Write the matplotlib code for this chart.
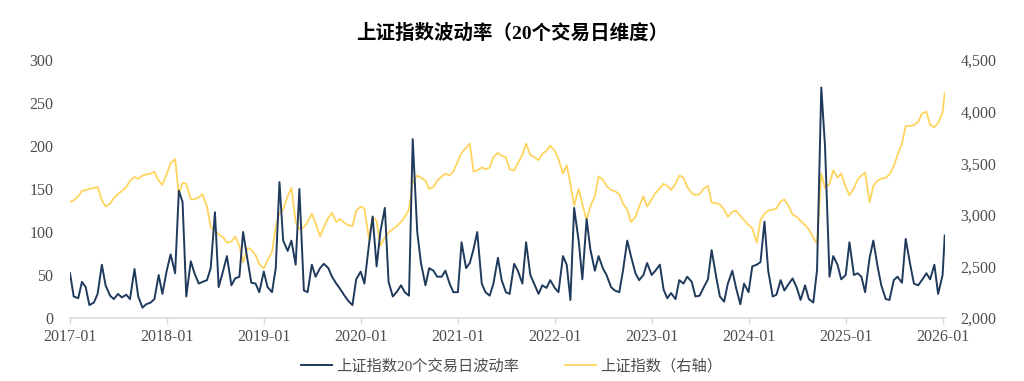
# 上证指数波动率（20个交易日维度）
import numpy as np
import pandas as pd
import matplotlib
matplotlib.use('Agg')
import matplotlib.pyplot as plt
import matplotlib.dates as mdates
from matplotlib.ticker import FuncFormatter

plt.rcParams['font.family'] = ['Liberation Serif', 'Noto Sans CJK SC']

# 半月度数据（每月1日、15日），末尾一个点为2026-01-09
dates = list(pd.date_range('2017-01-01', '2026-01-01', freq='SMS')) + [pd.Timestamp('2026-01-09')]

vol = [
    52, 25, 23, 42, 36, 15, 18, 28, 62, 38, 26, 22, 28, 24, 27, 22, 57, 25, 12, 16, 18, 22, 50, 28,  # 2017
    56, 74, 52, 148, 135, 25, 66, 52, 40, 42, 44, 58, 123, 36, 55, 72, 38, 46, 48, 100, 67, 41, 40, 30,  # 2018
    54, 36, 30, 58, 158, 90, 78, 90, 62, 150, 32, 30, 62, 48, 58, 63, 58, 48, 40, 34, 26, 20, 15, 45,  # 2019
    54, 40, 85, 118, 60, 100, 128, 42, 25, 30, 38, 30, 26, 208, 100, 64, 38, 58, 55, 48, 48, 55, 40, 30,  # 2020
    30, 88, 58, 64, 80, 100, 40, 30, 26, 40, 70, 44, 30, 28, 63, 55, 40, 88, 50, 40, 28, 38, 35, 44,  # 2021
    35, 30, 72, 62, 21, 128, 90, 45, 115, 80, 55, 72, 58, 50, 36, 32, 30, 55, 90, 72, 52, 44, 50, 64,  # 2022
    50, 55, 62, 33, 23, 29, 22, 44, 40, 48, 42, 25, 26, 35, 45, 79, 48, 25, 19, 40, 55, 35, 16, 40,  # 2023
    30, 60, 62, 65, 112, 55, 25, 27, 44, 32, 40, 46, 35, 21, 38, 22, 18, 56, 268, 200, 48, 72, 62, 45,  # 2024
    50, 88, 50, 52, 48, 30, 70, 90, 60, 38, 22, 21, 44, 48, 41, 92, 62, 40, 38, 44, 52, 45, 62, 28,  # 2025
    50, 96,  # 2026
]

index = [
    3124, 3140, 3180, 3230, 3240, 3250, 3260, 3270, 3140, 3080, 3110, 3160,
    3200, 3230, 3270, 3330, 3366, 3350, 3380, 3390, 3400, 3415, 3330, 3290,  # 2017
    3400, 3500, 3540, 3200, 3310, 3300, 3150, 3150, 3170, 3200, 3080, 2880,
    2850, 2810, 2780, 2730, 2740, 2790, 2700, 2540, 2680, 2660, 2610, 2520,  # 2018
    2480, 2560, 2640, 2880, 3020, 3050, 3180, 3260, 2930, 2860, 2880, 2930,
    3010, 2920, 2790, 2880, 2970, 3020, 2930, 2960, 2920, 2900, 2890, 3040,  # 2019
    3080, 3060, 2770, 2980, 2940, 2700, 2780, 2830, 2860, 2890, 2930, 2980,
    3050, 3320, 3380, 3360, 3330, 3250, 3270, 3330, 3370, 3400, 3380, 3420,  # 2020
    3520, 3600, 3650, 3690, 3420, 3430, 3460, 3440, 3460, 3560, 3600, 3570,
    3560, 3440, 3430, 3500, 3580, 3690, 3580, 3560, 3530, 3590, 3620, 3670,  # 2021
    3620, 3540, 3400, 3480, 3300, 3090, 3250, 3100, 2950, 3080, 3180, 3370,
    3340, 3280, 3240, 3230, 3200, 3110, 3050, 2930, 2980, 3080, 3180, 3080,  # 2022
    3150, 3210, 3260, 3300, 3280, 3240, 3300, 3380, 3360, 3270, 3210, 3190,
    3200, 3250, 3280, 3120, 3110, 3100, 3050, 2980, 3030, 3040, 2990, 2950,  # 2023
    2900, 2870, 2730, 2950, 3010, 3040, 3050, 3060, 3130, 3150, 3080, 3000,
    2980, 2940, 2900, 2860, 2780, 2720, 3400, 3260, 3300, 3430, 3360, 3400,  # 2024
    3270, 3190, 3260, 3340, 3380, 3410, 3120, 3280, 3330, 3350, 3360, 3390,
    3470, 3580, 3690, 3860, 3860, 3870, 3900, 3980, 4000, 3870, 3850, 3890,  # 2025
    3990, 4180,  # 2026
]

navy = '#1f3a5c'
yellow = '#ffd45e'
grey = '#4d4d4d'

fig = plt.figure(figsize=(10.24, 3.81), dpi=100)
ax = fig.add_axes([70 / 1024, 1 - 318 / 381, 875 / 1024, 258 / 381])
ax2 = ax.twinx()

ax2.plot(dates, index, color=yellow, lw=1.3, label='上证指数（右轴）')
ax.plot(dates, vol, color=navy, lw=1.4, label='上证指数20个交易日波动率')
ax.set_zorder(ax2.get_zorder() + 1)
ax.patch.set_visible(False)

ax.set_xlim(pd.Timestamp('2017-01-01'), pd.Timestamp('2026-01-10'))
ax.set_ylim(0, 300)
ax2.set_ylim(2000, 4500)
ax.set_yticks(range(0, 301, 50))
ax2.set_yticks(range(2000, 4501, 500))
ax2.yaxis.set_major_formatter(FuncFormatter(lambda v, p: f'{int(v):,}'))

ax.xaxis.set_major_locator(mdates.YearLocator())
ax.xaxis.set_major_formatter(mdates.DateFormatter('%Y-%m'))

for a in (ax, ax2):
    for s in ('top', 'right', 'left', 'bottom'):
        a.spines[s].set_visible(False)
ax.spines['bottom'].set_visible(True)
ax.spines['bottom'].set_color('#d9d9d9')
ax.spines['bottom'].set_linewidth(1.2)

ax.tick_params(axis='x', colors='#d9d9d9', length=4, width=1, labelsize=11.5, labelcolor=grey, pad=4)
ax.tick_params(axis='y', length=0, labelsize=11.5, labelcolor=grey, pad=12)
ax2.tick_params(axis='y', length=0, labelsize=11.5, labelcolor=grey, pad=11)

fig.text(0.5, 1 - 33 / 381, '上证指数波动率（20个交易日维度）', ha='center', va='center',
         fontsize=14, fontweight='bold', color='black')

h1, l1 = ax.get_legend_handles_labels()
h2, l2 = ax2.get_legend_handles_labels()
fig.legend(h1 + h2, l1 + l2, loc='center', bbox_to_anchor=(0.5, 1 - 366 / 381), ncol=2,
           frameon=False, fontsize=11, handlelength=2.0, handletextpad=0.3, columnspacing=3.0,
           labelcolor=grey)

fig.savefig('out.png', dpi=100)
